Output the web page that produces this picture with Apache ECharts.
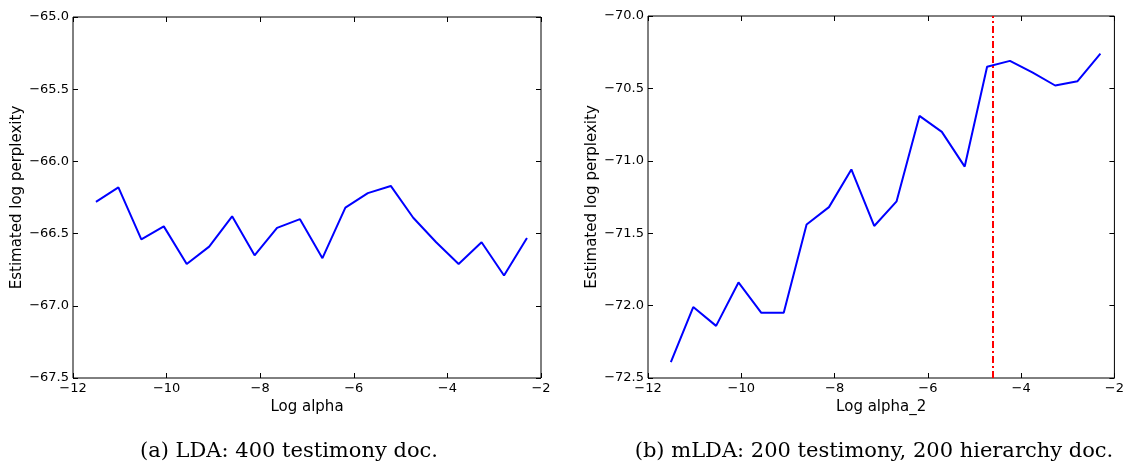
<!DOCTYPE html>
<html>
<head>
<meta charset="utf-8">
<script src="https://cdn.jsdelivr.net/npm/echarts@6/dist/echarts.min.js"></script>
<style>
  html, body { margin: 0; padding: 0; background: #fff; }
  #chart { width: 1127px; height: 466px; }
</style>
</head>
<body>
<div id="chart"></div>
<script>
// log alpha values (shared by both panels)
const logAlpha = [-11.51, -11.03, -10.54, -10.06, -9.57, -9.09, -8.60, -8.12, -7.64, -7.15,
  -6.67, -6.18, -5.70, -5.21, -4.73, -4.24, -3.76, -3.27, -2.79, -2.30];

// (a) LDA perplexity
const ldaPerplexity = [-66.28, -66.18, -66.54, -66.45, -66.71, -66.59, -66.38, -66.65, -66.46, -66.40,
  -66.67, -66.32, -66.22, -66.17, -66.39, -66.56, -66.71, -66.56, -66.79, -66.53];

// (b) mLDA perplexity
const mldaPerplexity = [-72.39, -72.01, -72.14, -71.84, -72.05, -72.05, -71.44, -71.32, -71.06, -71.45,
  -71.28, -70.69, -70.80, -71.04, -70.35, -70.31, -70.39, -70.48, -70.45, -70.26];

const bestAlpha = -4.605;

const captions = ["(a) LDA: 400 testimony doc.", "(b) mLDA: 200 testimony, 200 hierarchy doc."];

const chart = echarts.init(document.getElementById("chart"));

const minus = (v) => String(v).replace("-", "\u2212");
const fmtY = (v) => minus(v.toFixed(1));
const fmtX = (v) => minus(v);

const labelFont = { fontFamily: "DejaVu Sans", fontSize: 13, color: "#000" };
const nameFont = { fontFamily: "DejaVu Sans", fontSize: 15, color: "#000" };

function makeX(grid, name, show) {
  return {
    type: "value", gridIndex: grid, min: -12, max: -2, interval: 2,
    position: show ? "bottom" : "top",
    name: show ? name : "", nameLocation: "middle", nameGap: 22,
    nameTextStyle: nameFont,
    axisLine: { show: false },
    axisTick: { show: true, inside: true, length: 5, lineStyle: { color: "#000" } },
    axisLabel: { show: show, formatter: fmtX, margin: 4, ...labelFont },
    splitLine: { show: false }
  };
}

function makeY(grid, min, max, show) {
  return {
    type: "value", gridIndex: grid, min: min, max: max, interval: 0.5,
    position: show ? "left" : "right",
    name: show ? "Estimated log perplexity" : "", nameLocation: "middle", nameGap: 48,
    nameTextStyle: nameFont,
    axisLine: { show: false },
    axisTick: { show: true, inside: true, length: 5, lineStyle: { color: "#000" } },
    axisLabel: { show: show, formatter: fmtY, margin: 4, ...labelFont },
    splitLine: { show: false }
  };
}

const gridStyle = { show: true, borderColor: "#000", borderWidth: 1, backgroundColor: "transparent" };
const captionStyle = { fontFamily: "DejaVu Serif", fontSize: 21, fontWeight: "normal", color: "#000" };

chart.setOption({
  animation: false,
  title: [
    { text: captions[0], left: 284, top: 436, textAlign: "center", textStyle: captionStyle },
    { text: captions[1], left: 869, top: 436, textAlign: "center", textStyle: captionStyle }
  ],
  grid: [
    { left: 73, right: 586, top: 17, bottom: 88, ...gridStyle },
    { left: 648, right: 9, top: 16, bottom: 88, ...gridStyle }
  ],
  xAxis: [
    makeX(0, "Log alpha", true), makeX(0, "", false),
    makeX(1, "Log alpha_2", true), makeX(1, "", false)
  ],
  yAxis: [
    makeY(0, -67.5, -65, true), makeY(0, -67.5, -65, false),
    makeY(1, -72.5, -70, true), makeY(1, -72.5, -70, false)
  ],
  series: [
    {
      type: "line", xAxisIndex: 0, yAxisIndex: 0, symbol: "none",
      lineStyle: { color: "#0000ff", width: 2 },
      data: logAlpha.map((x, i) => [x, ldaPerplexity[i]])
    },
    {
      type: "line", xAxisIndex: 2, yAxisIndex: 2, symbol: "none",
      lineStyle: { color: "#0000ff", width: 2 },
      data: logAlpha.map((x, i) => [x, mldaPerplexity[i]]),
      markLine: {
        silent: true, symbol: "none", label: { show: false },
        lineStyle: { color: "#ff0000", width: 2, type: [7, 3, 2, 3] },
        data: [{ xAxis: bestAlpha }]
      }
    }
  ]
});
</script>
</body>
</html>
